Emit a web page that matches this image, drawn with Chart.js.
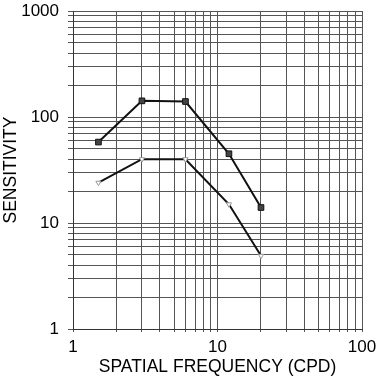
<!DOCTYPE html>
<html>
<head>
<meta charset="utf-8">
<script src="https://cdn.jsdelivr.net/npm/chart.js@4.4.1/dist/chart.umd.min.js"></script>
<style>
  html, body { margin: 0; padding: 0; background: #fff; }
  #wrap { width: 376px; height: 376px; }
</style>
</head>
<body>
<div id="wrap"><canvas id="chart" width="376" height="376"></canvas></div>
<script>
// valores
const freq = [1.5, 3, 6, 12, 20];
const sensUpper = [58, 142, 140, 45, 14];
const sensLower = [24, 40, 40, 15, 4.9];
const xTickLabels = ['1', '10', '100'];
const yTickLabels = ['1', '10', '100', '1000'];

function logTicks(min, max){
  const out = [];
  for (let d = min; d < max; d *= 10){
    for (let k = 1; k < 10; k++) out.push({ value: k * d });
  }
  out.push({ value: max });
  return out;
}

function pts(ys){ return freq.map((f, i) => ({ x: f, y: ys[i] })); }

const fam = 'Liberation Sans, Arial, sans-serif';
const font = { family: fam, size: 17 };

new Chart(document.getElementById('chart'), {
  type: 'line',
  data: {
    datasets: [
      {
        data: pts(sensUpper),
        borderColor: '#111',
        borderWidth: 2,
        pointStyle: 'rect',
        pointRadius: 4,
        pointBackgroundColor: '#444',
        pointBorderColor: '#111',
        pointBorderWidth: 1,
        tension: 0
      },
      {
        data: pts(sensLower),
        borderColor: '#111',
        borderWidth: 2,
        pointStyle: 'triangle',
        rotation: 180,
        pointRadius: 3,
        pointBackgroundColor: '#fff',
        pointBorderColor: '#999',
        pointBorderWidth: 1,
        tension: 0
      }
    ]
  },
  options: {
    responsive: false,
    animation: false,
    layout: { padding: { top: 11, right: 14, bottom: 0, left: 0 } },
    plugins: { legend: { display: false }, tooltip: { enabled: false } },
    scales: {
      x: {
        type: 'logarithmic',
        min: 1, max: 100,
        afterBuildTicks: (s) => { s.ticks = logTicks(1, 100); },
        afterFit: (s) => { s.height = 47; s.paddingLeft = 0; s.paddingRight = 0; },
        ticks: {
          autoSkip: false, maxRotation: 0, padding: 5, color: '#000', font,
          callback: (v) => xTickLabels.includes(String(v)) ? String(v) : ''
        },
        grid: { color: '#555', lineWidth: 1, tickLength: 3 },
        border: { color: '#333', width: 1 },
        title: {
          display: true, text: 'SPATIAL FREQUENCY (CPD)', color: '#000',
          font: { family: fam, size: 17.5, lineHeight: 1 },
          padding: { top: 0, bottom: 0 }
        }
      },
      y: {
        type: 'logarithmic',
        min: 1, max: 1000,
        afterBuildTicks: (s) => { s.ticks = logTicks(1, 1000); },
        afterFit: (s) => { s.width = 73; s.paddingTop = 0; s.paddingBottom = 0; },
        ticks: {
          autoSkip: false, padding: 9, color: '#000', font,
          callback: (v) => yTickLabels.includes(String(v)) ? String(v) : ''
        },
        grid: { color: '#555', lineWidth: 1, tickLength: 5 },
        border: { color: '#333', width: 1 },
        title: {
          display: true, text: 'SENSITIVITY', color: '#000',
          font: { family: fam, size: 17.5, lineHeight: 1.2 },
          padding: { top: 1, bottom: 0 }
        }
      }
    }
  },
  plugins: [{
    id: 'fondo',
    beforeDraw: (c) => {
      const ctx = c.ctx;
      ctx.save();
      ctx.fillStyle = '#fff';
      ctx.fillRect(0, 0, c.width, c.height);
      ctx.restore();
    }
  }]
});
</script>
</body>
</html>
